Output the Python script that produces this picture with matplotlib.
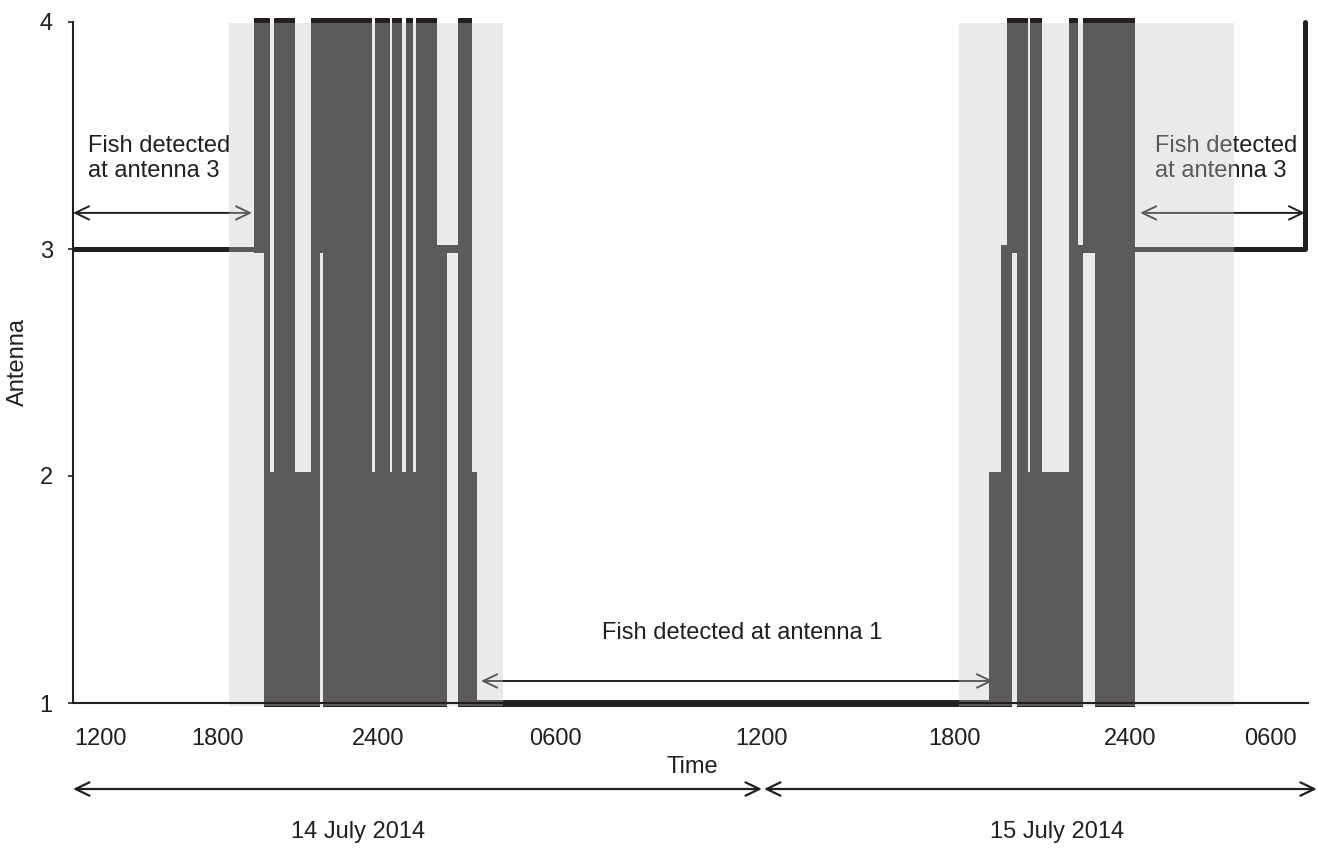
import matplotlib
matplotlib.use("Agg")
import matplotlib.pyplot as plt
from matplotlib.transforms import blended_transform_factory

plt.rcParams['font.family'] = ['Liberation Sans', 'DejaVu Sans']

# ---------------- data (time axis in hours from 12:00, 14 July) ----------------
# bursts of rapid switching between antennas: start, end, lowest, highest antenna
band_start = [6.16, 6.50, 6.70, 6.84, 7.55, 8.09, 8.40, 8.50, 10.17, 10.27, 10.78,
              10.85, 11.19, 11.33, 11.56, 11.67, 12.38, 12.72, 13.09, 13.57,
              31.15, 31.56, 31.76, 31.93, 32.10, 32.48, 32.55, 32.95, 33.87,
              34.18, 34.35, 34.76]
band_end = [6.50, 6.70, 6.84, 7.55, 8.09, 8.40, 8.50, 10.17, 10.27, 10.78, 10.85,
            11.19, 11.33, 11.56, 11.67, 12.38, 12.72, 13.09, 13.57, 13.74,
            31.56, 31.76, 31.93, 32.10, 32.48, 32.55, 32.95, 33.87, 34.18,
            34.35, 34.76, 36.12]
band_low = [3, 1, 1, 1, 1, 1, 3, 1, 1, 1, 1, 1, 1, 1, 1, 1, 1, 3, 1, 1,
            1, 1, 1, 3, 1, 1, 1, 1, 1, 1, 3, 1]
band_high = [4, 4, 2, 4, 2, 4, 4, 4, 2, 4, 2, 4, 2, 4, 2, 4, 3, 3, 4, 2,
             2, 3, 4, 4, 4, 2, 4, 2, 4, 3, 4, 4]

# steady residence periods
stay1_t, stay1_a = [0.0, 6.16], [3, 3]            # antenna 3, afternoon 14 July
stay2_t, stay2_a = [13.37, 31.30], [1, 1]         # antenna 1, daytime 15 July
stay3_t, stay3_a = [36.12, 41.90, 41.90], [3, 3, 4]  # antenna 3, then antenna 4

# night periods (shaded)
night_start = [5.31, 30.13]
night_end = [14.62, 39.48]

tick_pos = [0.92, 4.93, 10.37, 16.39, 23.43, 29.99, 35.95, 40.71]
tick_lab = ['1200', '1800', '2400', '0600', '1200', '1800', '2400', '0600']
y_ticks = [1, 2, 3, 4]

INK = '#231f20'
FS = 17

fig = plt.figure(figsize=(13.18, 8.5), dpi=100)
ax = fig.add_axes([73 / 1318, 1 - 703 / 850, 1235 / 1318, 681 / 850])
ax.set_xlim(0, 42)
ax.set_ylim(1, 4)

# vertical pad equal to half the line thickness (in data units)
ax_h_pts = 8.5 * (681 / 850) * 72
pad = 2.6 / (ax_h_pts / 3.0)

heights = [h - l + 2 * pad for l, h in zip(band_low, band_high)]
bottoms = [l - pad for l in band_low]
widths = [e - s for s, e in zip(band_start, band_end)]
ax.bar(band_start, heights, width=widths, bottom=bottoms, align='edge',
       color=INK, linewidth=0, zorder=1, clip_on=False)

ax.plot(stay1_t, stay1_a, color=INK, lw=3.6, solid_capstyle='butt', zorder=1, clip_on=False)
ax.plot(stay2_t, stay2_a, color=INK, lw=5.0, solid_capstyle='butt', zorder=1, clip_on=False)
ax.plot(stay3_t, stay3_a, color=INK, lw=3.6, solid_capstyle='round', zorder=1, clip_on=False)

# annotations
aprops = dict(arrowstyle='<->,head_length=0.5,head_width=0.24', color=INK, lw=1.4,
              shrinkA=0, shrinkB=0, mutation_scale=20)
ax.annotate('', xy=(6.09, 3.159), xytext=(0.0, 3.159), arrowprops=aprops,
            zorder=1, annotation_clip=False)
ax.annotate('', xy=(41.90, 3.159), xytext=(36.29, 3.159), arrowprops=aprops,
            zorder=1, annotation_clip=False)
ax.annotate('', xy=(31.29, 1.097), xytext=(13.875, 1.097), arrowprops=aprops,
            zorder=1, annotation_clip=False)
ax.text(0.51, 3.40, 'Fish detected\nat antenna 3', fontsize=FS, color=INK,
        ha='left', va='center', zorder=1)
ax.text(36.80, 3.40, 'Fish detected\nat antenna 3', fontsize=FS, color=INK,
        ha='left', va='center', zorder=1)
ax.text(22.75, 1.308, 'Fish detected at antenna 1', fontsize=FS, color=INK,
        ha='center', va='center', zorder=1)

# night shading drawn over the data
for s, e in zip(night_start, night_end):
    ax.axvspan(s, e, ymin=-0.0044, ymax=0.9985, color='#c6c6c6', alpha=0.355,
               lw=0, zorder=2, clip_on=False)

# axes styling
for side in ['top', 'right']:
    ax.spines[side].set_visible(False)
for side in ['left', 'bottom']:
    ax.spines[side].set_color(INK)
    ax.spines[side].set_linewidth(1.5)
    ax.spines[side].set_zorder(3)

ax.set_yticks(y_ticks)
ax.set_yticklabels([str(v) for v in y_ticks])
ax.tick_params(axis='y', length=3.6, width=1.2, pad=11, labelsize=FS, colors=INK)
ax.set_xticks(tick_pos)
ax.set_xticklabels(tick_lab)
ax.tick_params(axis='x', length=0, pad=18, labelsize=FS, colors=INK)

ax.text(-0.0445, 0.5, 'Antenna', rotation=90, transform=ax.transAxes,
        ha='center', va='center', fontsize=FS, color=INK)

bt = blended_transform_factory(ax.transData, ax.transAxes)
ax.text(21.05, -0.094, 'Time', transform=bt, ha='center', va='center',
        fontsize=FS, color=INK)

dprops = dict(arrowstyle='<->,head_length=0.5,head_width=0.24', color=INK, lw=1.6,
              shrinkA=0, shrinkB=0, mutation_scale=20)
ax.annotate('', xy=(23.43, -0.1263), xytext=(0.0, -0.1263), xycoords=bt,
            textcoords=bt, arrowprops=dprops, annotation_clip=False)
ax.annotate('', xy=(42.30, -0.1263), xytext=(23.50, -0.1263), xycoords=bt,
            textcoords=bt, arrowprops=dprops, annotation_clip=False)
ax.text(9.69, -0.189, '14 July 2014', transform=bt, ha='center', va='center',
        fontsize=FS, color=INK)
ax.text(33.46, -0.189, '15 July 2014', transform=bt, ha='center', va='center',
        fontsize=FS, color=INK)

fig.savefig('out.png', dpi=100)
